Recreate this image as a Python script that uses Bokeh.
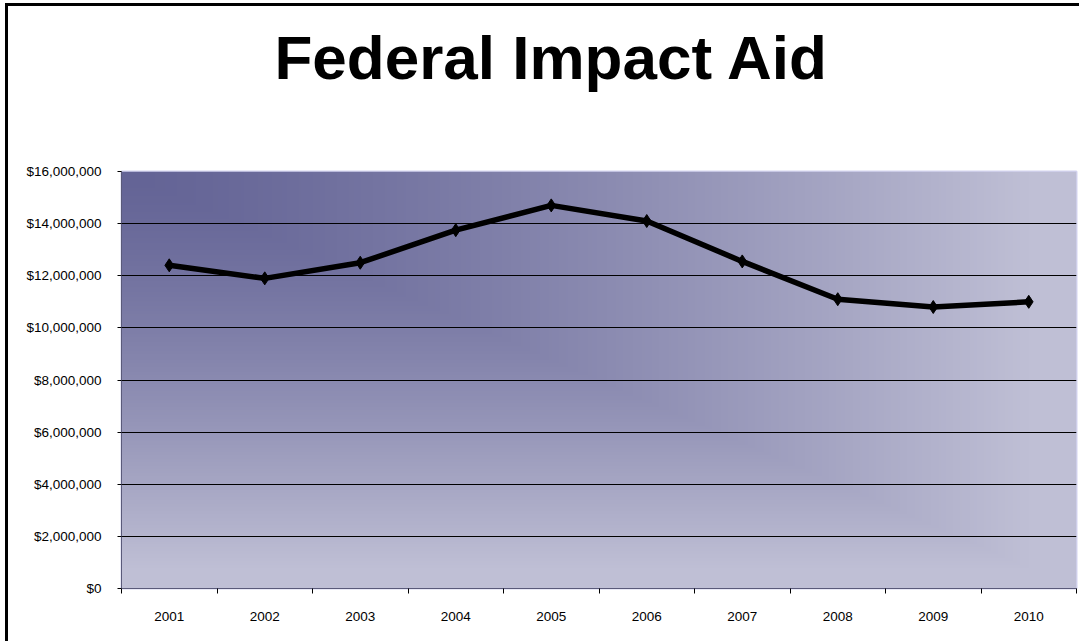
import numpy as np
from bokeh.plotting import figure
from bokeh.models import FixedTicker, NumeralTickFormatter, Title
from bokeh.embed import file_html
from bokeh.resources import INLINE

# ---- data ----
years = ["2001", "2002", "2003", "2004", "2005", "2006", "2007", "2008", "2009", "2010"]
impact_aid = [12400000, 11900000, 12500000, 13750000, 14700000, 14100000,
              12550000, 11100000, 10800000, 11000000]
y_ticks = [0, 2000000, 4000000, 6000000, 8000000, 10000000, 12000000, 14000000, 16000000]
title_text = "Federal Impact Aid"

n = len(years)
xs = [i + 0.5 for i in range(n)]

FIG_W, FIG_H = 1074, 638
B_L, B_R, B_B, B_T = 113, 6, 56, 165
p = figure(width=FIG_W, height=FIG_H, x_range=(0, n), y_range=(0, y_ticks[-1]),
           output_backend="svg", toolbar_location=None,
           min_border_left=B_L, min_border_right=B_R, min_border_bottom=B_B, min_border_top=B_T)
p.styles = {"border-left": "3px solid black", "border-top": "3px solid black",
            "margin-left": "5px", "margin-top": "3px"}

# title
p.title.text = title_text
p.title.align = "left"
p.title.offset = 153
p.title.vertical_align = "top"
p.title.standoff = 32
p.title.text_font = "Liberation Sans"
p.title.text_font_style = "bold"
p.title.text_font_size = "62px"
p.title.text_color = "black"

# empty spacer between the title and the plot area
p.add_layout(Title(text=" ", text_font_size="1px", standoff=59), "above")

# ---- gradient background (decoration) ----
H, W = 240, 400
u = np.linspace(0, 1, W)[None, :]
v = np.linspace(1, 0, H)[:, None]  # row 0 is bottom
t = np.clip(np.maximum(u, v) / 0.95, 0, 1) ** 1.35
c0 = np.array([0x64, 0x64, 0x96], dtype=float)
c1 = np.array([0xbf, 0xbf, 0xd5], dtype=float)
img = np.empty((H, W), dtype=np.uint32)
view = img.view(dtype=np.uint8).reshape((H, W, 4))
for k in range(3):
    view[:, :, k] = (c0[k] + (c1[k] - c0[k]) * t).astype(np.uint8)
view[:, :, 3] = 255
p.image_rgba(image=[img], x=0, y=0, dw=n, dh=y_ticks[-1], level="image")

p.background_fill_color = "#a0a0c0"
p.border_fill_color = "white"
p.outline_line_color = "#d4d4f0"
p.outline_line_width = 2

# ---- grid ----
p.xgrid.visible = False
p.ygrid.ticker = FixedTicker(ticks=y_ticks[1:-1])
p.ygrid.grid_line_color = "black"
p.ygrid.grid_line_width = 1
p.ygrid.grid_line_alpha = 1

# ---- axes ----
p.xaxis.ticker = FixedTicker(ticks=xs, minor_ticks=list(range(n + 1)))
p.xaxis.major_label_overrides = {x: yr for x, yr in zip(xs, years)}
p.xaxis.major_tick_out = 0
p.xaxis.major_tick_in = 0
p.xaxis.minor_tick_out = 5
p.xaxis.minor_tick_in = 0
p.xaxis.minor_tick_line_color = "black"
p.xaxis.major_label_standoff = 18

p.yaxis.ticker = FixedTicker(ticks=y_ticks)
p.yaxis.formatter = NumeralTickFormatter(format="$0,0")
p.yaxis.major_tick_out = 4
p.yaxis.major_tick_in = 0
p.yaxis.minor_tick_line_color = None
p.yaxis.major_label_standoff = 16

for ax in (p.xaxis[0], p.yaxis[0]):
    ax.axis_line_color = "#5a5a7a"
    ax.axis_line_width = 1
    ax.major_tick_line_color = "black"
    ax.major_label_text_font = "Liberation Sans"
    ax.major_label_text_font_size = "13.5px"
    ax.major_label_text_color = "black"

# ---- series ----
p.line(xs, impact_aid, line_width=5.5, color="black", line_join="round")
p.scatter(xs, impact_aid, marker="diamond", size=13, color="black")

open("out.html", "w").write(file_html(p, INLINE))
